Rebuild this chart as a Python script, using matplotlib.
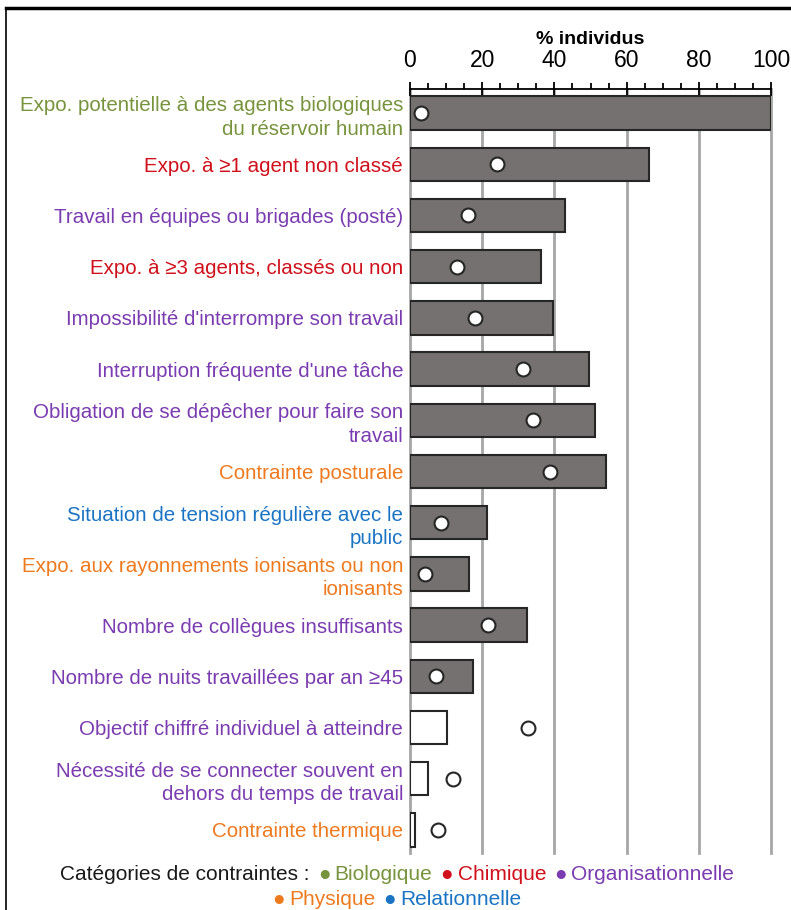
import matplotlib
matplotlib.use('Agg')
from matplotlib import pyplot as plt
from matplotlib.offsetbox import TextArea, HPacker, VPacker, AnchoredOffsetbox
from matplotlib.lines import Line2D

plt.rcParams['font.family'] = ['Liberation Sans', 'DejaVu Sans']

#Data
labels = ["Expo. potentielle à des agents biologiques\ndu réservoir humain",
          "Expo. à ≥1 agent non classé",
          "Travail en équipes ou brigades (posté)",
          "Expo. à ≥3 agents, classés ou non",
          "Impossibilité d'interrompre son travail",
          "Interruption fréquente d'une tâche",
          "Obligation de se dépêcher pour faire son\ntravail",
          "Contrainte posturale",
          "Situation de tension régulière avec le\npublic",
          "Expo. aux rayonnements ionisants ou non\nionisants",
          "Nombre de collègues insuffisants",
          "Nombre de nuits travaillées par an ≥45",
          "Objectif chiffré individuel à atteindre",
          "Nécessité de se connecter souvent en\ndehors du temps de travail",
          "Contrainte thermique"]
categories = ["Biologique", "Chimique", "Organisationnelle", "Chimique",
              "Organisationnelle", "Organisationnelle", "Organisationnelle",
              "Physique", "Relationnelle", "Physique", "Organisationnelle",
              "Organisationnelle", "Organisationnelle", "Organisationnelle",
              "Physique"]
barValues = [100, 66.2, 43, 36.3, 39.6, 49.6, 51.2, 54.3, 21.3, 16.3, 32.4, 17.5, 10.2, 5, 1.4]
circleValues = [3, 24, 16, 13, 18, 31.3, 34, 38.8, 8.6, 4.2, 21.6, 7.2, 32.7, 12, 7.8]
surExpose = [True]*12 + [False]*3

catColors = {"Biologique": '#77933C', "Chimique": '#D0101A', "Organisationnelle": '#7A3CB0',
             "Physique": '#EE7A1E', "Relationnelle": '#1A74C4'}
catOrder = ["Biologique", "Chimique", "Organisationnelle", "Physique", "Relationnelle"]

fig = plt.figure(figsize=(7.91, 9.10), dpi=100)
ax = fig.add_axes([410/791, 1-853/910, 361/791, (853-89)/910])

ypos = list(range(len(labels)))
ax.barh(ypos, barValues, height=0.65,
        color=['#767171' if s else 'white' for s in surExpose],
        edgecolor='#262626', linewidth=1.5, zorder=3)
ax.plot(circleValues, ypos, 'o', markersize=10, markerfacecolor='white',
        markeredgecolor='#262626', markeredgewidth=1.5, zorder=4)

ax.set_xlim(0, 100)
ax.set_ylim(len(labels)-0.55, -0.47)
ax.set_xticks(range(0, 101, 20))
ax.set_xticks(range(0, 101, 5), minor=True)
ax.xaxis.tick_top()
ax.xaxis.set_label_position('top')
ax.tick_params(axis='x', which='major', direction='inout', length=10, width=1.3,
               labelsize=16.5, pad=7)
ax.tick_params(axis='x', which='minor', direction='out', length=4, width=1.3)
ax.set_xlabel('% individus', fontsize=14, fontweight='bold', labelpad=4)
ax.grid(axis='x', color='#A6A6A6', linewidth=2, zorder=0)
for g in ax.get_xgridlines():
    g.set_clip_on(False)
for s in ['left', 'right', 'bottom']:
    ax.spines[s].set_visible(False)
ax.spines['top'].set_linewidth(1.3)

ax.set_yticks(ypos)
ax.set_yticklabels(labels, fontsize=14.8, linespacing=1.3)
ax.tick_params(axis='y', length=0, pad=5)
for t, c in zip(ax.get_yticklabels(), categories):
    t.set_color(catColors[c])
    t.set_horizontalalignment('right')
    t.set_multialignment('right')

#Legend at the bottom
def piece(txt, col):
    return TextArea(txt, textprops=dict(color=col, fontsize=15))

line1 = [piece("Catégories de contraintes :", '#1A1A1A')]
line2 = []
for i, c in enumerate(catOrder):
    p = [piece("●", catColors[c]), piece(c, catColors[c])]
    grp = HPacker(children=p, pad=0, sep=3)
    (line1 if i < 3 else line2).append(grp)
box = VPacker(children=[HPacker(children=line1, pad=0, sep=6),
                        HPacker(children=line2, pad=0, sep=6)],
              align='center', pad=0, sep=5)
anchored = AnchoredOffsetbox(loc='center', child=box, frameon=False,
                             bbox_to_anchor=(397/791, 1-887/910),
                             bbox_transform=fig.transFigure, borderpad=0)
fig.add_artist(anchored)

#Frame lines
fig.add_artist(Line2D([6/791, 1], [1-8/910, 1-8/910], color='black', linewidth=2.5,
                      transform=fig.transFigure))
fig.add_artist(Line2D([6/791, 6/791], [0, 1-8/910], color='black', linewidth=1.2,
                      transform=fig.transFigure))

fig.savefig('out.png', dpi=100)
